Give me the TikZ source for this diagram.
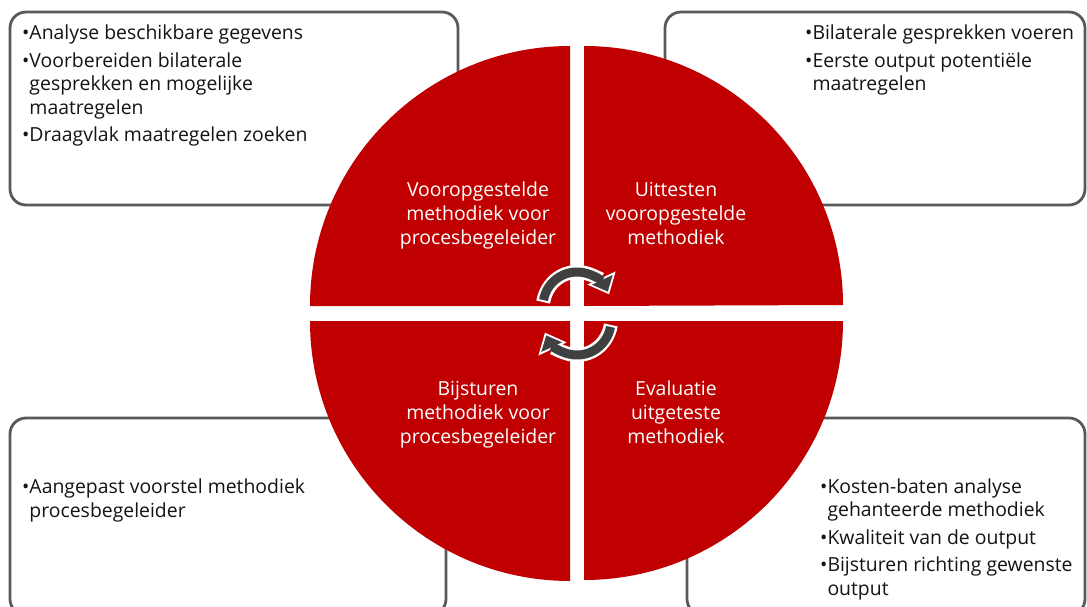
\documentclass[tikz,border=0pt]{standalone}
\usepackage{fontspec}
\setmainfont{Open Sans}
\usetikzlibrary{arrows.meta}
\definecolor{qred}{RGB}{192,0,0}
\definecolor{boxgray}{RGB}{89,89,89}
\definecolor{arrgray}{RGB}{64,64,64}
\definecolor{txtgray}{RGB}{20,20,20}
\begin{document}
\begin{tikzpicture}[x=1pt,y=-1pt,
  box/.style={draw=boxgray, line width=2.8pt, rounded corners=16pt, fill=white},
  quad/.style={fill=qred, draw=none},
  lst/.style={anchor=base west, align=left, inner sep=0pt, font=\fontsize{19.4}{23.5}\selectfont, text=txtgray},
  qtxt/.style={anchor=base, align=center, inner sep=0pt, font=\fontsize{19.4}{23.7}\selectfont, text=white},
  arrout/.style={white, line width=14pt, -{Triangle[width=30pt,length=18pt]}, shorten >=-3pt, shorten <=-2pt},
  arrin/.style={arrgray, line width=9pt, -{Triangle[width=22pt,length=13pt]}},
]
\useasboundingbox (0,0) rectangle (1087,607);
\clip (0,0) rectangle (1087,607);
% boxes
\draw[box] (10,12) rectangle (458,205);
\draw[box] (665,12) rectangle (1085,205);
\draw[box] (10,418) rectangle (446,615);
\draw[box] (687,418) rectangle (1085,615);
% box texts (anchored at the baseline of the last line)
\node[lst] (t1) at (22,141.7) {•Analyse beschikbare gegevens\\[4pt]
  •Voorbereiden bilaterale\\
  \hphantom{•}gesprekken en mogelijke\\
  \hphantom{•}maatregelen\\[4pt]
  •Draagvlak maatregelen zoeken};
\node[lst] (t2) at (805,90.7) {•Bilaterale gesprekken voeren\\[4pt]
  •Eerste output potentiële\\
  \hphantom{•}maatregelen};
\node[lst] (t3) at (22,517.3) {•Aangepast voorstel methodiek\\
  \hphantom{•}procesbegeleider};
\node[lst] (t4) at (820,595) {•Kosten-baten analyse\\
  \hphantom{•}gehanteerde methodiek\\[4pt]
  •Kwaliteit van de output\\[4pt]
  •Bijsturen richting gewenste\\
  \hphantom{•}output};
% quadrants
\fill[quad] (570,306) -- (310,306) arc[start angle=180, end angle=270, radius=260] -- cycle;
\fill[quad] (584,306) -- (584,46) arc[start angle=270, end angle=360, radius=259] -- cycle;
\fill[quad] (570,321) -- (310,321) arc[start angle=180, end angle=90, radius=260] -- cycle;
\fill[quad] (584,321) -- (843,321) arc[start angle=0, end angle=90, radius=259] -- cycle;
% quadrant texts (anchored at the baseline of the last line)
\node[qtxt] (q1) at (478,244) {Vooropgestelde\\methodiek voor\\procesbegeleider};
\node[qtxt] (q2) at (676,244) {Uittesten\\vooropgestelde\\methodiek};
\node[qtxt] (q3) at (478,443) {Bijsturen\\methodiek voor\\procesbegeleider};
\node[qtxt] (q4) at (676,443) {Evaluatie\\uitgeteste\\methodiek};
% cycle arrows
\coordinate (c1) at (577,306);
\coordinate (c2) at (577,321);
\draw[arrout] (c1) ++(190:34) arc[start angle=190, end angle=335, radius=34];
\draw[arrin] (c1) ++(190:34) arc[start angle=190, end angle=335, radius=34];
\draw[arrout] (c2) ++(10:34) arc[start angle=10, end angle=155, radius=34];
\draw[arrin] (c2) ++(10:34) arc[start angle=10, end angle=155, radius=34];
\end{tikzpicture}
\end{document}
